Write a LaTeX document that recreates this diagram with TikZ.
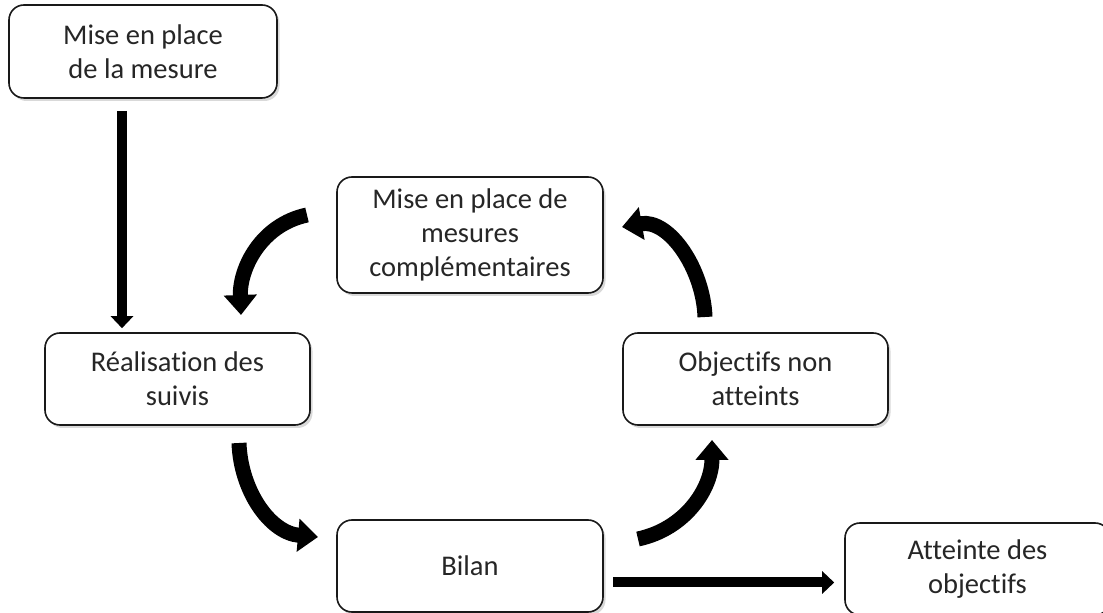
\documentclass[tikz,border=0pt]{standalone}
\usepackage{fontspec}
\setmainfont{Carlito}[Ligatures=NoCommon]
\usepackage{tikz}
\usetikzlibrary{positioning, arrows.meta, shadows}
\tikzstyle{box} = [
    rectangle, rounded corners=15pt,
    draw=black!90, line width=1.6pt,
    fill=white,
    align=center,
    text=black!85,
    font=\fontsize{28.5}{34}\selectfont,
    minimum width=265pt,
    minimum height=92pt,
    drop shadow={shadow xshift=2.5pt, shadow yshift=-3pt, opacity=0.3},
]
\tikzstyle{arrow} = [-{Triangle[length=12pt, width=22pt]}, line width=10pt]
\tikzstyle{curved} = [-{Triangle[length=20pt, width=32pt]}, line width=15pt]

\begin{document}
\begin{tikzpicture}[x=1pt, y=1pt]
    \useasboundingbox (0,0) rectangle (1103,613);

    % boxes
    \node (mesure) at (143,561.5) [box, minimum width=268pt, minimum height=93pt] {Mise en place\\de la mesure};
    \node (complem) at (470,378) [box, minimum width=266pt, minimum height=116pt] {Mise en place de\\mesures\\complémentaires};
    \node (suivis) at (177.5,234) [box] {Réalisation des\\suivis};
    \node (nonatteints) at (755.5,234) [box] {Objectifs non\\atteints};
    \node (bilan) at (470,47) [box, minimum width=266pt] {Bilan};
    \node (atteinte) at (977.5,44) [box] {Atteinte des\\objectifs};

    % straight arrows
    \coordinate (vstart) at (122,502);
    \draw [arrow, shorten >=4pt] (vstart) -- (vstart |- suivis.north);
    \coordinate (hstart) at (613,30.5);
    \draw [arrow, shorten >=10pt] (hstart) -- (hstart -| atteinte.west);

    % curved arrows
    \coordinate (a1) at (307,398);
    \coordinate (a2) at (241,298);
    \draw [curved] (a1) to[out=192, in=92] (a2);
    \coordinate (b1) at (705,296);
    \coordinate (b2) at (622,386);
    \draw [curved] (b1) to[out=92, in=10] (b2);
    \coordinate (c1) at (239,170);
    \coordinate (c2) at (318,76);
    \draw [curved] (c1) to[out=272, in=175] (c2);
    \coordinate (d1) at (638,74);
    \coordinate (d2) at (712,173);
    \draw [curved] (d1) to[out=12, in=270] (d2);
\end{tikzpicture}
\end{document}
